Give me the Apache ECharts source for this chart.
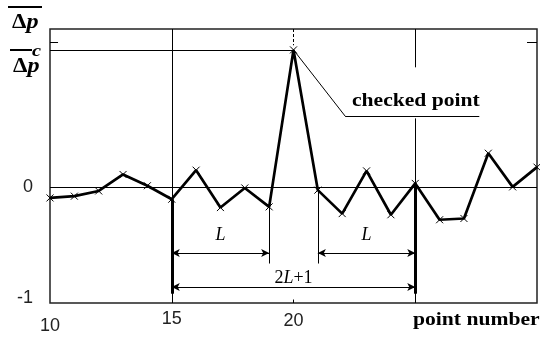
<!DOCTYPE html>
<html><head><meta charset="utf-8">
<script src="https://cdn.jsdelivr.net/npm/echarts@6/dist/echarts.min.js"></script>
<style>html,body{margin:0;padding:0;background:#fff}#c{width:540px;height:337px}</style>
</head><body><div id="c"></div>
<script>
// ---- data ----
const pointNumbers = [10,11,12,13,14,15,16,17,18,19,20,21,22,23,24,25,26,27,28,29,30];
const deltaP = [-0.095,-0.08,-0.035,0.107,0.01,-0.106,0.144,-0.178,-0.009,-0.172,1.18,-0.028,-0.23,0.138,-0.24,0.03,-0.283,-0.272,0.29,0.0,0.17];
const xTickLabels = ['10','15','20'];
const yTickLabels = ['-1','0'];
const checkedPoint = 20;
const checkedValue = 1.18;
const windowStart = 15, windowEnd = 25, halfWidth = 4;
const xMin = 10, xMax = 30, yMin = -1, yMax = 1.36;

const serif = '"Liberation Serif","DejaVu Serif",serif';
const sans = '"Liberation Sans",Arial,sans-serif';
const valAt = x => deltaP[pointNumbers.indexOf(x)];

const seg = (x1,y1,x2,y2) => [{coord:[x1,y1]},{coord:[x2,y2]}];
const topDim = 1.247, lArrowY = -0.569, spanArrowY = -0.862, dimBottom = -0.66, thickBottom = -0.92;
const leaderEnd = [22.12, 0.61], underlineEnd = 27.63;

const thinLines = [
  seg(xMin,0,xMax,0),
  seg(xMin,checkedValue,checkedPoint,checkedValue),
  seg(windowStart,yMax,windowStart,yMin),
  seg(windowEnd,yMax,windowEnd,1.03),
  seg(windowEnd,0.59,windowEnd,yMin),
  seg(windowStart+halfWidth,valAt(windowStart+halfWidth),windowStart+halfWidth,dimBottom),
  seg(windowEnd-halfWidth,valAt(windowEnd-halfWidth),windowEnd-halfWidth,dimBottom),
  seg(checkedPoint,checkedValue,leaderEnd[0],leaderEnd[1]),
  seg(leaderEnd[0],leaderEnd[1],underlineEnd,leaderEnd[1]),
  seg(xMin,topDim,10.33,topDim),
  seg(29.59,topDim,xMax,topDim),
  seg(checkedPoint,yMin,checkedPoint,-0.97)
];
const thickLines = [
  seg(windowStart,valAt(windowStart),windowStart,thickBottom),
  seg(windowEnd,valAt(windowEnd),windowEnd,thickBottom)
];

function mlSeries(data, width, lineType){
  return {
    type:'line', data:[], silent:true,
    markLine:{silent:true, symbol:'none', animation:false,
      lineStyle:{color:'#000', width:width, type:lineType||'solid'},
      label:{show:false}, emphasis:{disabled:true}, data:data}
  };
}
function arrowSeries(x1,x2,y,rich,text,dist){
  return {type:'line', data:[], silent:true,
    markLine:{silent:true, symbol:['arrow','arrow'], symbolSize:[6,8], animation:false,
      lineStyle:{color:'#000', width:1, type:'solid'},
      label:{show:true, position:'middle', distance:dist, formatter:text, rich:rich, color:'#000'},
      emphasis:{disabled:true},
      data:[seg(x1,y,x2,y)]}};
}
const dimRich = {
  i:{fontFamily:serif, fontStyle:'italic', fontSize:18, color:'#000'},
  n:{fontFamily:serif, fontSize:18, color:'#000'}
};
const deltaRich = {
  d:{fontFamily:serif, fontWeight:'bold', fontSize:20, color:'#000'},
  p:{fontFamily:serif, fontWeight:'bold', fontStyle:'italic', fontSize:21, color:'#000'}
};

const chart = echarts.init(document.getElementById('c'));
chart.setOption({
  animation:false,
  backgroundColor:'#fff',
  grid:{left:50, right:0, top:29, bottom:34, show:true, borderColor:'#222', borderWidth:1.5, backgroundColor:'transparent'},
  xAxis:{type:'value', min:xMin, max:xMax, interval:5,
    axisLine:{show:false}, axisTick:{show:false}, splitLine:{show:false},
    axisLabel:{margin:7, showMinLabel:true, showMaxLabel:true,
      formatter:v=>{const s=String(v); if(s===xTickLabels[0])return '{a|'+s+'}'; if(s===xTickLabels[1])return '{b|'+s+'}'; if(s===xTickLabels[2])return '{c|'+s+'}'; return '';},
      rich:{
        a:{fontFamily:sans,fontSize:18,color:'#222',padding:[7,0,0,0]},
        b:{fontFamily:sans,fontSize:18,color:'#222'},
        c:{fontFamily:sans,fontSize:18,color:'#222',padding:[2,0,0,0]}
      }}},
  yAxis:{type:'value', min:yMin, max:yMax, interval:1,
    axisLine:{show:false}, axisTick:{show:false}, splitLine:{show:false},
    axisLabel:{margin:17, showMaxLabel:false,
      formatter:v=>{const s=String(v); if(s===yTickLabels[0])return '{m|'+s+'}'; if(s===yTickLabels[1])return '{z|'+s+'}'; return '';},
      rich:{m:{fontFamily:sans,fontSize:18,color:'#222',padding:[0,0,10,0]}, z:{fontFamily:sans,fontSize:18,color:'#222'}}}},
  series:[
    mlSeries(thinLines, 1),
    mlSeries([seg(checkedPoint,yMax,checkedPoint,1.22)], 1, [3,2]),
    mlSeries(thickLines, 3),
    arrowSeries(windowStart, windowStart+halfWidth, lArrowY, dimRich, '{i|L}', 9),
    arrowSeries(windowEnd-halfWidth, windowEnd, lArrowY, dimRich, '{i|L}', 9),
    arrowSeries(windowStart, windowEnd, spanArrowY, dimRich, '{n|2}{i|L}{n|+1}', 0),
    {type:'line', data:pointNumbers.map((x,i)=>[x,deltaP[i]]),
      lineStyle:{color:'#000', width:2.7}, z:5,
      symbol:'path://M0,0L10,10M10,0L0,10', symbolSize:7,
      itemStyle:{color:'#000', borderColor:'#000', borderWidth:1},
      showAllSymbol:true, silent:true}
  ],
  graphic:[
    {type:'line', shape:{x1:8,y1:7,x2:42,y2:7}, style:{stroke:'#000', lineWidth:2}},
    {type:'text', x:12, y:23, scaleX:1.15, style:{text:'{d|Δ}{p|p}', rich:deltaRich, textAlign:'left', textVerticalAlign:'middle'}},
    {type:'line', shape:{x1:10,y1:50,x2:32,y2:50}, style:{stroke:'#000', lineWidth:2}},
    {type:'text', x:32, y:52, scaleX:1.2, style:{text:'c', font:'italic bold 17px '+serif, fill:'#000', textAlign:'left', textVerticalAlign:'middle'}},
    {type:'text', x:13, y:67, scaleX:1.15, style:{text:'{d|Δ}{p|p}', rich:deltaRich, textAlign:'left', textVerticalAlign:'middle'}},
    {type:'text', x:352, y:101, scaleX:1.2, style:{text:'checked point', font:'bold 18px '+serif, fill:'#000', textAlign:'left', textVerticalAlign:'middle'}},
    {type:'text', x:413, y:320, scaleX:1.2, style:{text:'point number', font:'bold 18px '+serif, fill:'#000', textAlign:'left', textVerticalAlign:'middle'}}
  ]
});
</script></body></html>
